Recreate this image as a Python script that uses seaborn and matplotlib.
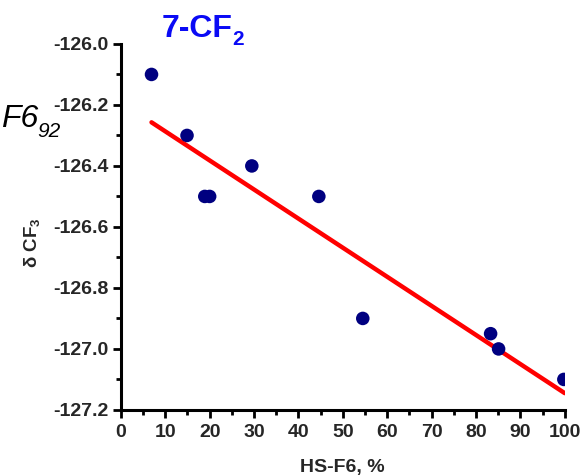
import matplotlib
matplotlib.use("Agg")
import matplotlib.pyplot as plt
from matplotlib.ticker import MultipleLocator
import seaborn as sns
import pandas as pd

# ---- data ----
hs_f6 = [6.9, 14.9, 18.9, 20.0, 29.5, 44.6, 54.5, 83.3, 85.1, 99.8]
delta_cf3 = [-126.10, -126.30, -126.50, -126.50, -126.40, -126.50,
             -126.90, -126.95, -127.00, -127.10]
fit_x = [6.9, 100.0]
fit_y = [-126.257, -127.145]
x_ticks = [0, 10, 20, 30, 40, 50, 60, 70, 80, 90, 100]
y_ticks = [-127.2, -127.0, -126.8, -126.6, -126.4, -126.2, -126.0]
y_tick_labels = ["-127.2", "-127.0", "-126.8", "-126.6", "-126.4", "-126.2", "-126.0"]

pts = pd.DataFrame({"x": hs_f6, "y": delta_cf3})
fit = pd.DataFrame({"x": fit_x, "y": fit_y})

sns.set_style("ticks")
plt.rcParams["font.family"] = ["Liberation Sans", "DejaVu Sans"]
plt.rcParams["font.weight"] = "bold"
plt.rcParams["mathtext.fontset"] = "custom"
plt.rcParams["mathtext.rm"] = "Liberation Sans:bold"
plt.rcParams["mathtext.bf"] = "Liberation Sans:bold"

fig = plt.figure(figsize=(5.84, 4.75), dpi=100)
ax = fig.add_axes([0.207, 0.137, 0.760, 0.7705])

sns.lineplot(data=fit, x="x", y="y", ax=ax, color="#ff0000", linewidth=3.2,
             zorder=2)
sns.scatterplot(data=pts, x="x", y="y", ax=ax, color="#000080", s=95,
                edgecolor="none", zorder=3)

ax.set_xlim(0, 100)
ax.set_ylim(-127.2, -126.0)
ax.set_xticks(x_ticks)
ax.set_xticklabels([str(t) for t in x_ticks], fontsize=14, fontweight="bold")
ax.set_yticks(y_ticks)
ax.set_yticklabels(y_tick_labels, fontsize=14, fontweight="bold")
ax.xaxis.set_minor_locator(MultipleLocator(5))
ax.yaxis.set_minor_locator(MultipleLocator(0.1))

ax.tick_params(which="major", direction="out", length=6, width=2.0,
               color="black", pad=3)
ax.tick_params(which="minor", direction="out", length=3.5, width=2.0,
               color="black")
ax.tick_params(axis="x", which="major", pad=4)

for side in ["top", "right"]:
    ax.spines[side].set_visible(False)
for side in ["left", "bottom"]:
    ax.spines[side].set_linewidth(2.2)
    ax.spines[side].set_color("black")

ax.set_xlabel("HS-F6, %", fontsize=14, fontweight="bold")
ax.xaxis.set_label_coords(0.5, -0.135)
ax.set_ylabel("δ CF$_{3}$", fontsize=13.5, fontweight="bold")
ax.yaxis.set_label_coords(-0.176, 0.456)

# title
fig.text(162 / 584, 1 - 37 / 475, "7-CF", fontsize=23, fontweight="bold",
         color="#0a0af5", ha="left", va="baseline")
fig.text(232 / 584, 1 - 45 / 475, "2", fontsize=15, fontweight="bold",
         color="#0a0af5", ha="left", va="baseline")

# clipped leftover label at left edge
fig.text(38 / 584, 1 - 127 / 475, "F6", fontsize=23, fontstyle="italic",
         fontweight="normal", color="black", ha="right", va="baseline")
fig.text(37 / 584, 1 - 137 / 475, "92", fontsize=15, fontstyle="italic",
         fontweight="normal", color="black", ha="left", va="baseline")

fig.savefig("out.png", dpi=100)
